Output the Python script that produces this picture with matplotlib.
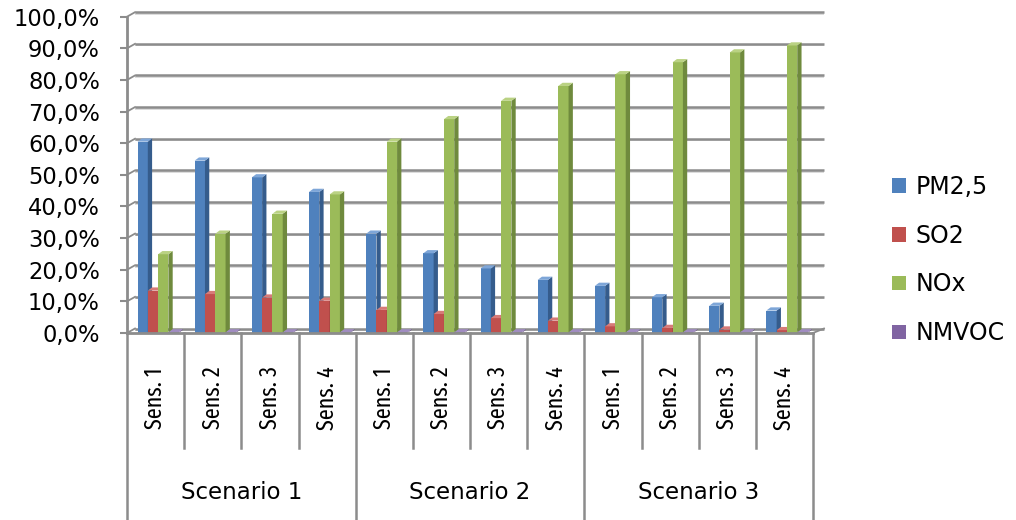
import matplotlib
matplotlib.use("Agg")
import os
import matplotlib.pyplot as plt
from matplotlib import font_manager
from matplotlib.font_manager import FontProperties
from matplotlib.patches import Polygon, Patch

# ---------------- data ----------------
sens_labels = ["Sens. 1", "Sens. 2", "Sens. 3", "Sens. 4",
               "Sens. 1", "Sens. 2", "Sens. 3", "Sens. 4",
               "Sens. 1", "Sens. 2", "Sens. 3", "Sens. 4"]
scenarios = ["Scenario 1", "Scenario 2", "Scenario 3"]
series_names = ["PM2,5", "SO2", "NOx", "NMVOC"]
pm25 = [60.5, 54.5, 49.2, 44.6, 31.4, 25.2, 20.4, 16.8, 14.9, 11.3, 8.6, 7.1]
so2 = [13.4, 12.3, 11.2, 10.2, 7.3, 6.0, 4.7, 3.9, 2.1, 1.6, 1.1, 0.9]
nox = [24.9, 31.4, 37.7, 43.8, 60.5, 67.6, 73.4, 78.1, 81.8, 85.6, 88.7, 90.9]
nmvoc = [0.2, 0.2, 0.2, 0.2, 0.2, 0.2, 0.2, 0.2, 0.2, 0.2, 0.2, 0.2]
y_ticks = [0, 10, 20, 30, 40, 50, 60, 70, 80, 90, 100]

front_colors = ["#4F81BD", "#C0504D", "#9BBB59", "#8064A2"]
side_colors = ["#355c8c", "#8e3a38", "#6f8a3d", "#5b4677"]
top_colors = ["#7ea6d8", "#d77b78", "#bad283", "#a08cc0"]

# ---------------- fonts: condensed sans for the rotated labels ----------------
pref = ["firasansextracondensed-regular.", "barlowcondensed-regular.",
        "firasanscondensed-regular.", "dejavusanscondensed.ttf"]
files = [f.fname for f in font_manager.fontManager.ttflist]
narrow_file = None
for p in pref:
    for fn in files:
        if os.path.basename(fn).lower().startswith(p):
            narrow_file = fn
            break
    if narrow_file:
        break
narrow_prop = FontProperties(fname=narrow_file) if narrow_file else FontProperties(family="DejaVu Sans")

# ---------------- figure ----------------
W, H = 1016, 520
fig = plt.figure(figsize=(W / 100, H / 100), dpi=100)
L, R, B, T = 127, 813, 333, 16.7
ax = fig.add_axes([L / W, 1 - B / H, (R - L) / W, (B - T) / H])
n = len(pm25)
ax.set_xlim(0, n)
ax.set_ylim(0, 100)
px_x = n / (R - L)
px_y = 100 / (B - T)

grid_c = "#8c8c8c"
# back wall gridlines (3D offset)
wdx, wdy = 8, 4.5
for t in y_ticks:
    ax.plot([wdx * px_x, n + 11 * px_x], [t + wdy * px_y - 1.6 * px_y] * 2,
            color="#d6d6d6", lw=1.2, zorder=1, solid_capstyle="butt", clip_on=False)
    ax.plot([wdx * px_x, n + 11 * px_x], [t + wdy * px_y] * 2,
            color=grid_c, lw=1.8, zorder=1.1, solid_capstyle="butt", clip_on=False)
    ax.plot([0, wdx * px_x], [t, t + wdy * px_y], color=grid_c, lw=1.3,
            zorder=1.1, clip_on=False)
# right floor diagonal
ax.plot([n, n + 11 * px_x], [0, wdy * px_y], color=grid_c, lw=1.3, zorder=1.1, clip_on=False)

# ---------------- bars ----------------
all_series = [pm25, so2, nox, nmvoc]
bw = 10.3 * px_x
off0 = 10.5 * px_x
sdx, sdy = 4.3 * px_x, 3.2 * px_y
for k, vals in enumerate(all_series):
    xs = [i + off0 + k * bw for i in range(n)]
    z = 3 + k
    ax.bar(xs, vals, width=bw, align="edge", color=front_colors[k], linewidth=0, zorder=z)
    for x0, v in zip(xs, vals):
        x1 = x0 + bw
        ax.add_patch(Polygon([(x1, 0), (x1 + sdx, sdy), (x1 + sdx, v + sdy), (x1, v)],
                             closed=True, facecolor=side_colors[k], linewidth=0, zorder=z))
        ax.add_patch(Polygon([(x0, v), (x0 + sdx, v + sdy), (x1 + sdx, v + sdy), (x1, v)],
                             closed=True, facecolor=top_colors[k], linewidth=0, zorder=z))

# ---------------- axes styling ----------------
for s in ["top", "right"]:
    ax.spines[s].set_visible(False)
for s in ["left", "bottom"]:
    ax.spines[s].set_color(grid_c)
    ax.spines[s].set_linewidth(2.0)
    ax.spines[s].set_zorder(10)
ax.set_yticks(y_ticks)
ax.set_yticklabels([f"{t:.1f}%".replace(".", ",") for t in y_ticks],
                   fontsize=16.3, family="DejaVu Sans")
ax.tick_params(axis="y", length=5, width=1.5, color=grid_c, pad=14.5)
ax.set_xticks([])

# category separators and labels
xt = ax.get_xaxis_transform()
for i in range(n + 1):
    bottom = -0.591 if i % 4 == 0 else -0.364
    ax.plot([i, i], [0, bottom], transform=xt, color=grid_c, lw=1.8, clip_on=False, zorder=10)
sens_texts = []
for i, lab in enumerate(sens_labels):
    sens_texts.append(ax.text(i + 0.5, -0.205, lab, transform=xt, rotation=90,
                              ha="center", va="center", fontproperties=narrow_prop,
                              fontsize=18))
for j, sc in enumerate(scenarios):
    ax.text(j * 4 + 2, -0.503, sc, transform=xt, ha="center", va="center",
            fontsize=16.5, family="DejaVu Sans")

# fit rotated label length (~71 px) and keep glyphs inside the cell width
fig.canvas.draw()
rend = fig.canvas.get_renderer()
bb = sens_texts[0].get_window_extent(rend)
if bb.height > 0:
    fs = 18 * 71.0 / bb.height
    if bb.width > 0:
        fs = min(fs, 18 * 24.0 / bb.width)
    for t in sens_texts:
        t.set_fontsize(fs)

# ---------------- legend ----------------
handles = [Patch(facecolor=c, edgecolor="none") for c in front_colors]
fig.legend(handles, series_names, loc="center left",
           bbox_to_anchor=(892 / W, 1 - 260 / H), frameon=False,
           prop={"family": "DejaVu Sans", "size": 17},
           handlelength=0.58, handleheight=0.58, handletextpad=0.42,
           labelspacing=1.05, borderpad=0, borderaxespad=0)

fig.savefig("out.png", dpi=100)
